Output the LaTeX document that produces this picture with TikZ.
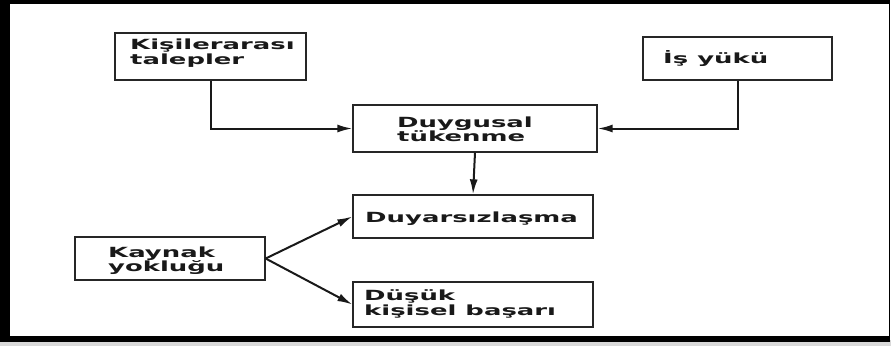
\documentclass[tikz,border=0pt]{standalone}
\usepackage{fontspec}
\newfontfamily\boxfont{DejaVu Sans Bold}[FakeStretch=1.85]
\usetikzlibrary{arrows.meta}
\tikzset{
  box/.style={draw=black!85, line width=1.3pt, inner sep=0pt},
  lbl/.style={anchor=base west, inner sep=0pt, font=\boxfont\fontsize{14}{14}\selectfont, text=black!90},
  arr/.style={line width=2pt, black!90, -{Latex[length=15pt,width=8pt]}}
}
\begin{document}
\begin{tikzpicture}[x=1pt,y=-1pt]
\useasboundingbox (0,0) rectangle (891,346);
% frame
\fill[black!15] (0,340) rectangle (891,346);
\fill[black] (0,0) rectangle (890,342);
\fill[white] (10,4) rectangle (888.5,336);
% boxes
\node[box, minimum width=191pt, minimum height=47pt] (kis) at (210.5,56.5) {};
\node[box, minimum width=244pt, minimum height=47pt] (duy) at (475,128.5) {};
\node[box, minimum width=189pt, minimum height=43pt] (isy) at (737.5,58.5) {};
\node[box, minimum width=240pt, minimum height=43pt] (dys) at (473,216.5) {};
\node[box, minimum width=240pt, minimum height=45pt] (dus) at (473,304.5) {};
\node[box, minimum width=190pt, minimum height=43pt] (kay) at (170,258.5) {};
% labels
\node[lbl] (t1a) at (130,49.5) {Kişilerarası};
\node[lbl] (t1b) at (130,64) {talepler};
\node[lbl] (t2a) at (397,127) {Duygusal};
\node[lbl] (t2b) at (397,141) {tükenme};
\node[lbl] (t3) at (663,63) {İş yükü};
\node[lbl] (t4) at (365,222) {Duyarsızlaşma};
\node[lbl] (t5a) at (364,300) {Düşük};
\node[lbl] (t5b) at (364,315) {kişisel başarı};
\node[lbl] (t6a) at (108,257) {Kaynak};
\node[lbl] (t6b) at (108,271) {yokluğu};
% connectors
\draw[arr] (kis.south) |- (duy.west);
\draw[arr] (isy.south) |- (duy.east);
\draw[arr] (duy.south) -- (dys.north);
\draw[arr] (kay.east) -- (dys.west);
\draw[arr] (kay.east) -- (dus.west);
\end{tikzpicture}
\end{document}
